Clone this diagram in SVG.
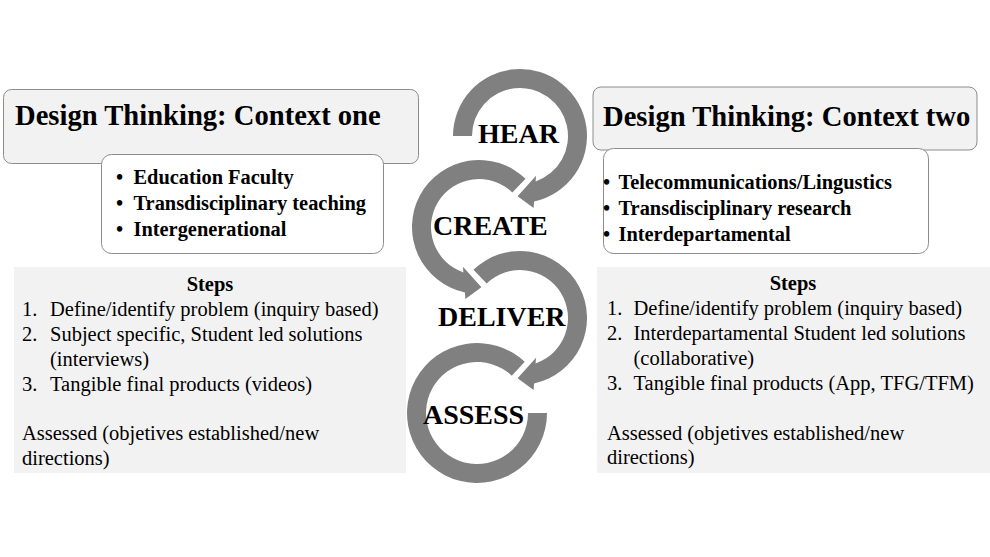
<svg xmlns="http://www.w3.org/2000/svg" width="990" height="557" viewBox="0 0 990 557">
<style>
.hdr{fill:#f2f2f2;stroke:#8c8c8c;stroke-width:1}
.lst{fill:#ffffff;stroke:#8c8c8c;stroke-width:1}
.stp{fill:#f2f2f2}
.arw{fill:#808080}
text{font-family:"Liberation Serif","Times New Roman",serif;fill:#000}
.ttl{font-size:28.6px;font-weight:bold}
.bul{font-size:20.4px;font-weight:bold}
.body{font-size:20.5px}
.bold{font-weight:bold}
.lab{font-size:28px;font-weight:bold}
</style>
<rect width="990" height="557" fill="#ffffff"/>

<g id="context-one-header">
<rect class="hdr" x="3.5" y="89.5" width="415" height="74" rx="8"/>
<text class="ttl" x="15" y="124.5">Design Thinking: Context one</text>
</g>
<g id="context-one-list">
<rect class="lst" x="101.5" y="154.5" width="282" height="99" rx="10"/>
<text class="bul" x="116" y="183.5">•</text>
<text class="bul" x="133.5" y="183.5">Education Faculty</text>
<text class="bul" x="116" y="209.5">•</text>
<text class="bul" x="133.5" y="209.5">Transdisciplinary teaching</text>
<text class="bul" x="116" y="235.5">•</text>
<text class="bul" x="133.5" y="235.5">Intergenerational</text>
</g>
<g id="context-one-steps">
<rect class="stp" x="14" y="267" width="392" height="206"/>
<text class="body bold" x="210" y="290.5" text-anchor="middle">Steps</text>
<text class="body" x="22" y="315.5">1.</text>
<text class="body" x="50" y="315.5">Define/identify problem (inquiry based)</text>
<text class="body" x="22" y="340.5">2.</text>
<text class="body" x="50" y="340.5">Subject specific, Student led solutions</text>
<text class="body" x="50" y="365.5">(interviews)</text>
<text class="body" x="22" y="390.5">3.</text>
<text class="body" x="50" y="390.5">Tangible final products (videos)</text>
<text class="body" x="22" y="440">Assessed (objetives established/new</text>
<text class="body" x="22" y="464.5">directions)</text>
</g>

<g id="context-two-header">
<rect class="hdr" x="593" y="87" width="384" height="63" rx="8"/>
<text class="ttl" x="603" y="125.5">Design Thinking: Context two</text>
</g>
<g id="context-two-list">
<rect class="lst" x="603.5" y="148.5" width="325" height="105" rx="10"/>
<text class="bul" x="603" y="188.5">•</text>
<text class="bul" x="618.5" y="188.5">Telecommunications/Lingustics</text>
<text class="bul" x="603" y="214.5">•</text>
<text class="bul" x="618.5" y="214.5">Transdisciplinary research</text>
<text class="bul" x="603" y="240.5">•</text>
<text class="bul" x="618.5" y="240.5">Interdepartamental</text>
</g>
<g id="context-two-steps">
<rect class="stp" x="597" y="267" width="393" height="206"/>
<text class="body bold" x="793" y="289.5" text-anchor="middle">Steps</text>
<text class="body" x="607" y="314.5">1.</text>
<text class="body" x="633.5" y="314.5">Define/identify problem (inquiry based)</text>
<text class="body" x="607" y="339.5">2.</text>
<text class="body" x="633.5" y="339.5">Interdepartamental Student led solutions</text>
<text class="body" x="633.5" y="364.5">(collaborative)</text>
<text class="body" x="607" y="389.5">3.</text>
<text class="body" x="633.5" y="389.5">Tangible final products (App, TFG/TFM)</text>
<text class="body" x="607" y="439.5">Assessed (objetives established/new</text>
<text class="body" x="607" y="464">directions)</text>
</g>

<g id="connectors">
<path class="arw" transform="translate(477,413)" d="M 47.74 -51.19 A 70 70 0 1 0 70 0 L 51 0 A 51 51 0 1 1 34.78 -37.30 Z"/>
<path class="arw" transform="translate(520,318)" d="M -46.54 -48.19 A 67 67 0 1 1 14.10 65.50 L 13.61 72.02 L -2.42 60.35 L 16.03 39.68 L 15.60 45.39 A 48 48 0 1 0 -33.35 -34.53 Z"/>
<path class="arw" transform="translate(479,227) scale(-1,1)" d="M -46.54 -48.19 A 67 67 0 1 1 14.10 65.50 L 13.61 72.02 L -2.42 60.35 L 16.03 39.68 L 15.60 45.39 A 48 48 0 1 0 -33.35 -34.53 Z"/>
<path class="arw" transform="translate(520,136)" d="M -67 0 A 67 67 0 1 1 14.10 65.50 L 13.61 72.02 L -2.42 60.35 L 16.03 39.68 L 15.60 45.39 A 48 48 0 1 0 -48 0 Z"/>
</g>

<g id="assess"><text class="lab" x="423" y="423.5">ASSESS</text></g>
<g id="deliver"><text class="lab" x="438" y="325.5">DELIVER</text></g>
<g id="create"><text class="lab" x="433" y="235">CREATE</text></g>
<g id="hear"><text class="lab" x="478" y="143">HEAR</text></g>
</svg>
